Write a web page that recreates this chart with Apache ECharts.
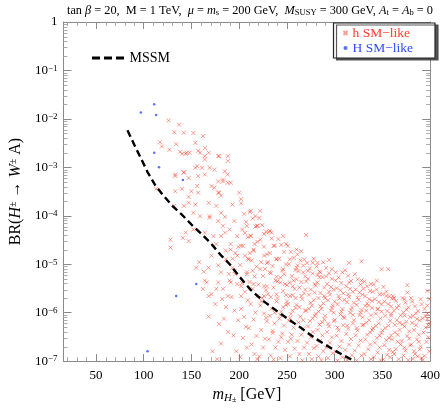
<!DOCTYPE html>
<html>
<head>
<meta charset="utf-8">
<script src="https://cdn.jsdelivr.net/npm/echarts@6/dist/echarts.min.js"></script>
<style>html,body{margin:0;padding:0;background:#fff}#c{width:443px;height:409px}</style>
</head>
<body>
<div id="c"></div>
<script>
var X_MIN = 16, X_MAX = 400, Y_MIN = 1e-7, Y_MAX = 1;
var SERIF = 'Liberation Serif';

// MSSM prediction (dashed line)
var mssm = [[83,5.8e-3],[90,2.95e-3],[96,1.7e-3],[104,8e-4],[112,4.3e-4],[120,2.7e-4],[130,1.6e-4],
  [140,1.05e-4],[150,6.6e-5],[160,4.3e-5],[170,2.75e-5],[180,1.6e-5],[190,1.0e-5],[200,5.6e-6],
  [212,2.95e-6],[225,1.75e-6],[246,8.7e-7],[265,4.8e-7],[280,2.9e-7],[300,1.66e-7],[321,9.8e-8]];

// H SM-like points
var bigHSmLike = [[97,1.35e-2],[111,2.0e-2],[113,1.2e-2],[111,2.0e-3],[116,1.0e-3],[141,5.5e-4],
  [155,3.9e-6],[134,2.2e-6],[104,1.6e-7]];

// h SM-like points
var hSmLike = [
  [126,9.3e-3],[137,7.6e-3],[132,5.3e-3],[142,5.2e-3],[152,5.1e-3],[162,4.4e-3],[117,3.3e-3],[119,2.7e-3],
  [127,2.3e-3],[134,3.0e-3],[154,3.2e-3],[138,2.1e-3],[140,1.9e-3],[145,2.0e-3],[148,2.0e-3],[159,2.0e-3],
  [164,2.5e-3],[168,2.0e-3],[156,1.05e-3],[154,9.8e-4],[161,9.8e-4],[169,9.8e-4],[178,1.7e-3],[188,1.7e-3],
  [164,1.45e-3],[174,8.9e-4],[185,8.3e-4],[142,7.9e-4],[133,6.6e-4],[157,6.6e-4],[164,7.1e-4],[147,6.0e-4],
  [188,7.1e-4],[178,5.1e-4],[183,5.6e-4],[188,4.8e-4],[140,3.6e-4],[133,3.2e-4],[113,3.6e-4],[150,3.2e-4],
  [157,3.0e-4],[147,2.45e-4],[174,3.8e-4],[178,3.0e-4],[181,2.6e-4],[185,9.5e-5],[176,1.6e-4],[168,1.85e-4],
  [154,1.7e-4],[147,1.85e-4],[142,1.6e-4],[152,1.15e-4],[159,9.8e-5],[169,9.8e-5],[178,7.8e-5],[183,6.2e-5],
  [190,5.2e-5],[144,4.5e-5],[152,5.2e-5],[164,4.5e-5],[173,3.8e-5],[181,3.8e-5],[132,1.6e-4],
  [164,1.7e-3],[179,1.7e-3],[188,1.35e-3],[156,4.1e-4],[171,4.1e-4],[183,5.1e-4],[191,4.8e-4],[179,3.0e-4],
  [200,3.0e-4],[202,2.2e-4],[212,1.26e-4],[193,1.7e-4],[222,1.26e-4],[217,9.8e-5],[232,4.9e-5],[246,3.8e-5],
  [260,2.0e-5],[181,1.15e-4],[169,9.1e-5],[195,7.8e-5],[208,6.2e-5],[219,6.2e-5],[185,4.5e-5],[198,3.8e-5],
  [212,3.8e-5],[226,4.2e-5],[176,2.6e-5],[191,2.0e-5],[202,2.4e-5],[215,2.0e-5],[236,2.4e-5],[249,2.6e-5],
  [171,1.5e-5],[186,1.26e-5],[198,1.5e-5],[210,1.26e-5],[226,1.5e-5],[239,1.26e-5],[253,1.26e-5],[168,8.5e-6],
  [181,6.8e-6],[195,7.2e-6],[208,6.2e-6],[222,7.9e-6],[232,6.8e-6],[246,7.9e-6],[260,8.5e-6],[164,4.6e-6],
  [178,4.2e-6],[191,4.2e-6],[202,3.5e-6],[215,3.9e-6],[229,3.5e-6],[243,4.2e-6],[256,3.5e-6],[162,3.1e-6],
  [168,2.2e-6],[176,3.1e-6],[188,2.2e-6],[202,2.2e-6],[226,2.2e-6],[239,2.4e-6],[253,2.2e-6],[128,3.2e-5],
  [128,2.2e-5],[141,3.5e-5],[147,3.0e-5],[155,8.5e-6],[133,7.1e-4],[142,7.8e-4],[144,1.9e-3],[157,2.2e-3],
  [219,6.2e-5],[234,4.5e-5],[270,4.0e-5],[265,1.86e-5],[277,1.07e-5],[282,1.07e-5],[294,1.23e-5],[315,1.07e-5],
  [328,1.15e-5],[349,7.9e-6],[356,7.9e-6],[376,3.7e-6],[397,2.8e-6],[297,7.9e-6],[308,6.8e-6],[285,6.8e-6],
  [267,6.8e-6],[284,5.4e-6],[301,4.6e-6],[315,4.2e-6],[328,4.6e-6],[338,3.9e-6],[354,2.2e-6],[362,2.0e-6],
  [373,1.9e-6],[380,2.0e-6],[390,1.9e-6],[399,1.9e-6],[345,1.17e-6],[332,1.38e-6],[359,8.7e-7],[373,8.7e-7],
  [386,7.4e-7],[397,7.4e-7],
  [158,1.1e-5],[163,7.0e-6],[166,4.2e-6],[171,2.4e-6],[175,1.5e-6],[168,8.3e-7],[179,5.8e-7],[183,3.1e-6],
  [186,1.3e-6],[181,2.3e-7],[188,4.0e-7],[172,1.6e-7],[177,1.1e-7],[184,7.5e-7],[186,1.9e-5],[178,9.5e-6],
  [182,1.9e-6],[189,6.3e-6],
  [191,2.6e-5],[193,1.3e-5],[196,6.2e-6],[198,3.9e-6],[192,2.1e-6],[195,1.1e-6],[199,7.0e-7],[194,3.4e-7],
  [197,1.6e-7],[190,4.6e-6],[199,2.3e-5],[196,1.7e-5],[193,8.4e-6],
  [202,1.8e-4],[205,1.1e-4],[207,7.5e-5],[203,5.2e-5],[209,3.6e-5],[204,2.4e-5],[206,1.5e-5],[201,9.6e-6],
  [208,6.8e-6],[203,4.1e-6],[206,2.7e-6],[209,1.8e-6],[202,1.2e-6],[205,8.2e-7],[207,5.1e-7],[204,3.0e-7],
  [208,1.9e-7],[201,1.2e-7],[209,1.3e-5],[206,4.4e-5],
  [211,1.2e-4],[214,8.8e-5],[217,6.0e-5],[212,3.9e-5],[219,2.9e-5],[215,1.9e-5],[213,1.2e-5],[218,8.9e-6],
  [216,5.6e-6],[211,4.3e-6],[214,3.1e-6],[219,2.2e-6],[212,1.5e-6],[217,1.0e-6],[215,7.2e-7],[210,4.8e-7],
  [218,3.3e-7],[213,2.2e-7],[216,1.4e-7],[219,1.1e-7],[211,1.7e-5],[216,2.6e-5],[214,7.3e-6],
  [221,9.0e-5],[224,6.4e-5],[228,4.7e-5],[222,3.2e-5],[226,2.3e-5],[229,1.6e-5],[223,1.1e-5],[227,8.0e-6],
  [225,5.7e-6],[220,3.8e-6],[228,2.9e-6],[224,2.0e-6],[222,1.4e-6],[226,9.6e-7],[229,6.6e-7],[223,4.4e-7],
  [227,2.9e-7],[225,1.9e-7],[221,1.25e-7],[229,1.05e-5],[226,3.5e-6],[223,1.7e-6],[228,7.8e-7],
  [231,4.6e-5],[234,3.4e-5],[237,2.4e-5],[232,1.7e-5],[239,1.3e-5],[235,9.1e-6],[233,6.5e-6],[238,4.6e-6],
  [236,3.3e-6],[230,2.4e-6],[239,1.7e-6],[234,1.2e-6],[232,8.6e-7],[237,6.0e-7],[235,4.2e-7],[231,2.8e-7],
  [238,1.9e-7],[233,1.3e-7],[236,1.08e-7],[239,5.5e-6],[233,2.1e-6],[237,1.0e-6],[230,1.1e-5],[235,3.8e-7],
  [241,3.3e-5],[244,2.5e-5],[247,1.8e-5],[242,1.3e-5],[249,9.9e-6],[245,7.4e-6],[243,5.3e-6],[248,3.9e-6],
  [246,2.8e-6],[240,2.0e-6],[249,1.45e-6],[244,1.05e-6],[242,7.5e-7],[247,5.4e-7],[245,3.7e-7],[241,2.5e-7],
  [248,1.7e-7],[243,1.15e-7],[246,1.3e-6],[240,4.4e-6],[249,2.3e-6],[243,8.8e-7],[247,6.2e-6],[244,3.1e-7],
  [251,2.4e-5],[254,1.8e-5],[257,1.35e-5],[252,1.0e-5],[259,7.6e-6],[255,5.7e-6],[253,4.2e-6],[258,3.1e-6],
  [256,2.3e-6],[250,1.7e-6],[259,1.25e-6],[254,9.3e-7],[252,6.8e-7],[257,4.9e-7],[255,3.5e-7],[251,2.5e-7],
  [258,1.8e-7],[253,1.25e-7],[256,1.1e-6],[250,3.7e-6],[259,2.0e-6],[253,7.7e-7],[257,4.6e-6],[254,2.9e-7],
  [251,1.5e-6],
  [261,1.6e-5],[264,1.2e-5],[267,9.4e-6],[262,7.2e-6],[269,5.6e-6],[265,4.3e-6],[263,3.3e-6],[268,2.5e-6],
  [266,1.9e-6],[260,1.45e-6],[269,1.1e-6],[264,8.3e-7],[262,6.3e-7],[267,4.7e-7],[265,3.5e-7],[261,2.6e-7],
  [268,1.9e-7],[263,1.4e-7],[266,1.04e-7],[260,4.9e-6],[269,3.0e-6],[263,1.3e-6],[267,7.0e-7],[265,2.2e-6],
  [261,9.5e-6],[268,1.25e-5],
  [271,1.05e-5],[274,8.2e-6],[277,6.4e-6],[272,5.0e-6],[279,3.9e-6],[275,3.0e-6],[273,2.35e-6],[278,1.8e-6],
  [276,1.4e-6],[270,1.1e-6],[279,8.6e-7],[274,6.7e-7],[272,5.2e-7],[277,4.0e-7],[275,3.1e-7],[271,2.4e-7],
  [278,1.85e-7],[273,1.4e-7],[276,1.1e-7],[270,4.4e-6],[279,2.6e-6],[273,1.2e-6],[277,7.6e-7],[275,1.6e-6],
  [272,7.3e-6],[278,1.3e-5],
  [281,9.0e-6],[284,7.0e-6],[287,5.4e-6],[282,4.2e-6],[289,3.3e-6],[285,2.55e-6],[283,2.0e-6],[288,1.55e-6],
  [286,1.2e-6],[280,9.4e-7],[289,7.3e-7],[284,5.7e-7],[282,4.4e-7],[287,3.4e-7],[285,2.65e-7],[281,2.05e-7],
  [288,1.6e-7],[283,1.25e-7],[286,1.05e-7],[280,3.6e-6],[289,2.2e-6],[283,1.05e-6],[287,6.3e-7],[285,1.35e-6],
  [282,6.0e-6],[288,1.1e-5],
  [291,8.4e-6],[294,6.5e-6],[297,5.0e-6],[292,3.9e-6],[299,3.0e-6],[295,2.35e-6],[293,1.8e-6],[298,1.4e-6],
  [296,1.1e-6],[290,8.6e-7],[299,6.7e-7],[294,5.2e-7],[292,4.0e-7],[297,3.1e-7],[295,2.4e-7],[291,1.9e-7],
  [298,1.45e-7],[293,1.15e-7],[296,3.4e-6],[290,2.0e-6],[299,1.0e-6],[293,5.9e-7],[297,1.25e-6],[294,2.7e-6],
  [291,5.6e-6],
  [301,6.8e-6],[304,5.3e-6],[307,4.1e-6],[302,3.2e-6],[309,2.5e-6],[305,1.95e-6],[303,1.5e-6],[308,1.18e-6],
  [306,9.2e-7],[300,7.1e-7],[309,5.5e-7],[304,4.3e-7],[302,3.35e-7],[307,2.6e-7],[305,2.0e-7],[301,1.55e-7],
  [308,1.2e-7],[303,1.02e-7],[306,2.9e-6],[300,1.7e-6],[309,8.2e-7],[303,4.9e-7],[307,1.05e-6],[304,2.2e-6],
  [311,7.5e-6],[314,5.8e-6],[317,4.5e-6],[312,3.5e-6],[319,2.7e-6],[315,2.1e-6],[313,1.65e-6],[318,1.28e-6],
  [316,1.0e-6],[310,7.8e-7],[319,6.0e-7],[314,4.7e-7],[312,3.65e-7],[317,2.85e-7],[315,2.2e-7],[311,1.7e-7],
  [318,1.32e-7],[313,1.05e-7],[316,3.1e-6],[310,1.85e-6],[319,9.0e-7],[313,5.4e-7],[317,1.15e-6],[314,2.4e-6],
  [321,6.2e-6],[324,4.9e-6],[327,3.8e-6],[322,3.0e-6],[329,2.35e-6],[325,1.85e-6],[323,1.45e-6],[328,1.13e-6],
  [326,8.9e-7],[320,7.0e-7],[329,5.5e-7],[324,4.3e-7],[322,3.4e-7],[327,2.65e-7],[325,2.1e-7],[321,1.65e-7],
  [328,1.3e-7],[323,1.03e-7],[326,2.6e-6],[320,1.6e-6],[329,8.0e-7],[323,4.8e-7],[327,1.0e-6],[324,2.05e-6],
  [331,4.4e-6],[334,3.5e-6],[337,2.8e-6],[332,2.2e-6],[339,1.75e-6],[335,1.4e-6],[333,1.1e-6],[338,8.8e-7],
  [336,7.0e-7],[330,5.6e-7],[339,4.4e-7],[334,3.5e-7],[332,2.8e-7],[337,2.2e-7],[335,1.75e-7],[331,1.4e-7],
  [338,1.1e-7],[336,1.9e-6],[330,3.1e-6],[339,1.25e-6],[333,6.2e-7],[337,3.9e-7],[334,1.55e-6],
  [341,3.8e-6],[344,3.0e-6],[347,2.4e-6],[342,1.9e-6],[349,1.5e-6],[345,1.2e-6],[343,9.5e-7],[348,7.6e-7],
  [346,6.0e-7],[340,4.8e-7],[349,3.8e-7],[344,3.0e-7],[342,2.4e-7],[347,1.9e-7],[345,1.5e-7],[341,1.2e-7],
  [348,1.05e-7],[346,1.65e-6],[340,2.7e-6],[349,1.05e-6],[343,5.3e-7],[347,3.35e-7],[344,4.6e-6],
  [351,3.4e-6],[354,2.7e-6],[357,2.15e-6],[352,1.7e-6],[359,1.35e-6],[355,1.08e-6],[353,8.6e-7],[358,6.8e-7],
  [356,5.4e-7],[350,4.3e-7],[359,3.4e-7],[354,2.7e-7],[352,2.15e-7],[357,1.7e-7],[355,1.35e-7],[351,1.08e-7],
  [356,1.5e-6],[350,2.4e-6],[359,9.5e-7],[353,4.8e-7],[357,3.0e-7],[358,1.2e-7],
  [361,2.2e-6],[364,1.75e-6],[367,1.4e-6],[362,1.1e-6],[369,8.8e-7],[365,7.0e-7],[363,5.6e-7],[368,4.4e-7],
  [366,3.5e-7],[360,2.8e-7],[369,2.2e-7],[364,1.75e-7],[362,1.4e-7],[367,1.1e-7],[365,1.25e-6],[360,1.95e-6],
  [368,6.2e-7],[363,3.9e-7],[366,2.5e-7],[361,1.55e-7],
  [371,2.0e-6],[374,1.6e-6],[377,1.28e-6],[372,1.02e-6],[379,8.1e-7],[375,6.5e-7],[373,5.2e-7],[378,4.1e-7],
  [376,3.3e-7],[370,2.6e-7],[379,2.1e-7],[374,1.65e-7],[372,1.3e-7],[377,1.05e-7],[375,1.15e-6],[371,5.8e-7],
  [378,2.9e-7],[373,1.9e-7],[376,2.6e-6],
  [381,1.7e-6],[384,1.35e-6],[387,1.08e-6],[382,8.6e-7],[389,6.9e-7],[385,5.5e-7],[383,4.4e-7],[388,3.5e-7],
  [386,2.8e-7],[380,2.2e-7],[389,1.75e-7],[384,1.4e-7],[382,1.12e-7],[387,1.25e-7],[385,9.6e-7],[381,6.1e-7],
  [388,2.5e-7],[383,1.6e-7],
  [391,1.5e-6],[394,1.2e-6],[397,9.6e-7],[392,7.7e-7],[399,6.1e-7],[395,4.9e-7],[393,3.9e-7],[398,3.1e-7],
  [396,2.5e-7],[390,2.0e-7],[399,1.6e-7],[394,1.28e-7],[392,1.05e-7],[397,1.4e-6],[395,8.5e-7],[398,5.4e-7],
  [391,1.15e-7]
];

// minor tick positions
var xMinorTicks = [];
for (var t = 20; t < X_MAX; t += 10) { if (t % 50 !== 0) xMinorTicks.push(t); }
var yMinorTicks = [];
for (var e = -7; e < 0; e++) { for (var m = 2; m <= 9; m++) yMinorTicks.push(m * Math.pow(10, e)); }

var chart = echarts.init(document.getElementById('c'));

var frame = '#8a8a8a';
var sup = { fontSize: 9, fontFamily: SERIF, verticalAlign: 'top', lineHeight: 12 };

function tickLine(x1, y1, x2, y2) {
  return { type: 'line', shape: { x1: x1, y1: y1, x2: x2, y2: y2 }, style: { stroke: '#aaa', lineWidth: 1 } };
}

var option = {
  animation: false,
  title: {
    text: 'tan {i|β} = 20,  M = 1 TeV,  {i|μ} = {i|m}{sub|s} = 200 GeV,  {i|M}{sub|SUSY} = 300 GeV, {i|A}{sub|t} = {i|A}{sub|b} = 0',
    left: 62, top: 0,
    textStyle: {
      fontFamily: SERIF, fontSize: 12.3, fontWeight: 'normal', color: '#000',
      rich: {
        i: { fontFamily: SERIF, fontSize: 12.3, fontStyle: 'italic' },
        sub: { fontFamily: SERIF, fontSize: 8.5, verticalAlign: 'bottom', lineHeight: 10 }
      }
    }
  },
  legend: [{
    data: [
      { name: 'h SM\u2212like', textStyle: { color: '#ff3b2f' } },
      { name: 'H SM\u2212like', textStyle: { color: '#2f4cff' } }
    ],
    orient: 'vertical', right: 8, top: 23,
    itemWidth: 4, itemHeight: 4, itemGap: 1,
    padding: [3, 22, 3, 9],
    backgroundColor: '#fff', borderColor: '#222', borderWidth: 1.2,
    shadowColor: 'rgba(70,70,70,0.9)', shadowOffsetX: 3, shadowOffsetY: 2, shadowBlur: 0,
    textStyle: { fontFamily: SERIF, fontSize: 13.5 }
  }, {
    data: [{ name: 'MSSM', icon: 'path://M0,0h8v3h-8zM12,0h8v3h-8zM24,0h8v3h-8z' }],
    left: 87, top: 46,
    itemWidth: 33, itemHeight: 3, itemGap: 8,
    textStyle: { fontFamily: SERIF, fontSize: 14, color: '#000' }
  }],
  grid: { left: 59, right: 10, top: 22, bottom: 47 },
  xAxis: [{
    type: 'value', min: X_MIN, max: X_MAX, splitNumber: 8,
    name: '{i|m}{s|H}{ss|±} [GeV]', nameLocation: 'middle', nameGap: 24,
    nameTextStyle: {
      fontFamily: SERIF, fontSize: 16, color: '#000',
      rich: {
        i: { fontFamily: SERIF, fontSize: 16, fontStyle: 'italic' },
        s: { fontFamily: SERIF, fontSize: 11, fontStyle: 'italic', verticalAlign: 'bottom', lineHeight: 14 },
        ss: { fontFamily: SERIF, fontSize: 8, verticalAlign: 'bottom', lineHeight: 18 }
      }
    },
    axisLine: { lineStyle: { color: frame } },
    axisTick: { inside: true, length: 7, lineStyle: { color: frame } },
    axisLabel: { showMinLabel: false, fontFamily: SERIF, fontSize: 13, color: '#000', margin: 8 },
    splitLine: { show: false }
  }, {
    type: 'value', min: X_MIN, max: X_MAX, splitNumber: 8, position: 'top',
    axisLine: { lineStyle: { color: frame } },
    axisTick: { inside: true, length: 7, lineStyle: { color: frame } },
    axisLabel: { show: false }, splitLine: { show: false }
  }],
  yAxis: [{
    type: 'log', logBase: 10, min: Y_MIN, max: Y_MAX, splitNumber: 7,
    name: 'BR({i|H}{p|±} \u2192 {i|W}{p|±} A)', nameLocation: 'middle', nameGap: 36, nameRotate: 90,
    nameTextStyle: {
      fontFamily: SERIF, fontSize: 16, color: '#000',
      rich: {
        i: { fontFamily: SERIF, fontSize: 16, fontStyle: 'italic' },
        p: { fontFamily: SERIF, fontSize: 10, verticalAlign: 'top', lineHeight: 14 }
      }
    },
    axisLine: { lineStyle: { color: frame } },
    axisTick: { inside: true, length: 8, lineStyle: { color: frame } },
    axisLabel: {
      fontFamily: SERIF, fontSize: 13, color: '#000', margin: 6,
      formatter: function (v) {
        var n = Math.round(Math.log10(v));
        return n === 0 ? '1' : '10{sup|\u2212' + (-n) + '}';
      },
      rich: { sup: sup }
    },
    splitLine: { show: false }
  }, {
    type: 'log', logBase: 10, min: Y_MIN, max: Y_MAX, splitNumber: 7, position: 'right',
    axisLine: { lineStyle: { color: frame } },
    axisTick: { inside: true, length: 8, lineStyle: { color: frame } },
    axisLabel: { show: false }, splitLine: { show: false }
  }],
  series: [{
    name: 'h SM\u2212like', type: 'scatter', data: hSmLike,
    symbol: 'path://M0,0L10,10M10,0L0,10', symbolSize: 4,
    itemStyle: { color: 'rgba(255,255,255,0)', borderColor: 'rgba(245,50,30,0.6)', borderWidth: 1 },
    z: 2
  }, {
    name: 'H SM\u2212like', type: 'scatter', data: bigHSmLike,
    symbol: 'circle', symbolSize: 2.5,
    itemStyle: { color: '#2f4cff' }, z: 3
  }, {
    name: 'MSSM', type: 'line', data: mssm, showSymbol: false, symbol: 'none',
    lineStyle: { color: '#000', width: 2.4, type: [7, 4] },
    itemStyle: { color: '#000' }, z: 4
  }, {
    type: 'custom', silent: true, z: 1,
    data: yMinorTicks.map(function (v) { return [X_MIN, v]; }),
    renderItem: function (params, api) {
      var a = api.coord([X_MIN, api.value(1)]);
      var b = api.coord([X_MAX, api.value(1)]);
      var y = Math.round(a[1]) + 0.5;
      return { type: 'group', children: [
        tickLine(a[0], y, a[0] + 4, y), tickLine(b[0] - 4, y, b[0], y)
      ] };
    }
  }, {
    type: 'custom', silent: true, z: 1,
    data: xMinorTicks.map(function (v) { return [v, Y_MIN]; }),
    renderItem: function (params, api) {
      var a = api.coord([api.value(0), Y_MIN]);
      var b = api.coord([api.value(0), Y_MAX]);
      var x = Math.round(a[0]) + 0.5;
      return { type: 'group', children: [
        tickLine(x, a[1], x, a[1] - 4), tickLine(x, b[1], x, b[1] + 4)
      ] };
    }
  }]
};

chart.setOption(option);
</script>
</body>
</html>
